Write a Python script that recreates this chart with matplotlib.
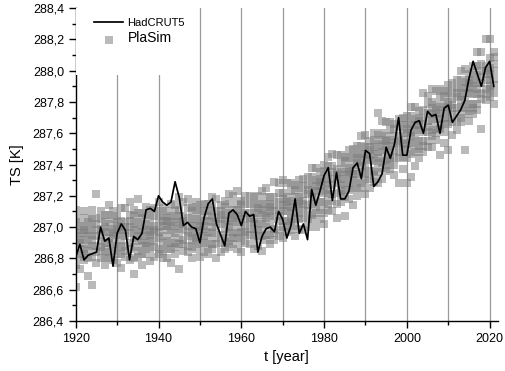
import numpy as np
import matplotlib
matplotlib.use("Agg")
import matplotlib.pyplot as plt
from matplotlib.ticker import MultipleLocator, FuncFormatter
from matplotlib.patches import Rectangle

plt.rcParams['font.family'] = ['Liberation Sans', 'DejaVu Sans']

# -------------------------------------------------------
# Global mean surface temperature: HadCRUT5 vs PlaSim ensemble
# -------------------------------------------------------

years = np.arange(1920, 2022)

# HadCRUT5 annual mean (K)
hadcrut5 = [
    286.81, 286.89, 286.79, 286.82, 286.83, 286.84, 287.00, 286.91, 286.93, 286.75,
    286.96, 287.02, 286.98, 286.79, 286.94, 286.92, 286.96, 287.11, 287.12, 287.10,
    287.20, 287.16, 287.14, 287.16, 287.29, 287.19, 287.01, 287.03, 287.00, 286.99,
    286.90, 287.06, 287.15, 287.18, 287.02, 286.95, 286.88, 287.09, 287.11, 287.08,
    287.01, 287.10, 287.07, 287.08, 286.84, 286.94, 286.99, 287.00, 286.97, 287.10,
    287.05, 286.93, 287.01, 287.18, 286.96, 287.02, 286.92, 287.24, 287.14, 287.23,
    287.33, 287.38, 287.17, 287.35, 287.18, 287.18, 287.23, 287.38, 287.41, 287.31,
    287.49, 287.47, 287.26, 287.29, 287.34, 287.51, 287.44, 287.53, 287.70, 287.46,
    287.46, 287.62, 287.67, 287.68, 287.60, 287.74, 287.71, 287.72, 287.60, 287.76,
    287.78, 287.67, 287.71, 287.75, 287.81, 287.95, 288.06, 287.98, 287.90, 288.02,
    288.06, 287.90,
]

# PlaSim ensemble members per year (K), one row per year, 1920..2021
plasim = [
    [286.76, 286.83, 286.89, 286.94, 286.98, 287.03, 286.62, 287.11],
    [286.81, 286.86, 286.92, 286.96, 287.01, 287.06, 286.73, 286.90],
    [286.79, 286.86, 286.92, 286.96, 287.01, 287.10, 286.83, 286.98],
    [286.69, 286.85, 286.89, 286.94, 286.98, 287.03, 287.06, 286.80],
    [286.81, 286.88, 286.95, 287.00, 287.05, 286.63, 286.92, 287.11],
    [286.77, 286.84, 286.88, 286.94, 286.98, 287.02, 287.06, 287.21],
    [286.85, 286.91, 286.95, 286.99, 287.05, 287.10, 286.80, 286.87],
    [286.81, 286.90, 286.97, 287.00, 287.03, 286.76, 286.86, 287.08],
    [286.80, 286.84, 286.93, 286.97, 287.02, 287.08, 287.14, 286.90],
    [286.85, 286.89, 286.94, 286.99, 287.05, 287.10, 286.79, 286.96],
    [286.77, 286.88, 286.95, 286.98, 287.03, 287.07, 286.83, 287.01],
    [286.83, 286.87, 286.92, 287.00, 287.04, 287.12, 286.74, 286.97],
    [286.81, 286.88, 286.94, 286.98, 287.03, 287.12, 286.85, 287.00],
    [286.79, 286.86, 286.90, 286.96, 287.00, 287.04, 287.08, 287.16],
    [286.80, 286.87, 286.93, 286.98, 287.02, 287.07, 286.70, 287.11],
    [286.81, 286.85, 286.94, 286.98, 287.03, 287.09, 287.18, 286.91],
    [286.76, 286.88, 286.92, 286.97, 287.01, 287.06, 287.09, 286.83],
    [286.88, 286.94, 286.98, 287.02, 287.08, 287.13, 286.83, 286.90],
    [286.86, 286.91, 286.97, 287.01, 287.06, 287.11, 286.78, 286.95],
    [286.87, 286.91, 286.96, 287.01, 287.07, 287.12, 286.81, 286.98],
    [286.86, 286.93, 287.00, 287.05, 287.10, 286.83, 286.97, 287.16],
    [286.85, 286.94, 287.01, 287.04, 287.07, 286.80, 286.90, 287.12],
    [286.80, 286.91, 286.98, 287.01, 287.06, 287.10, 286.86, 287.04],
    [286.86, 286.90, 286.95, 287.03, 287.07, 287.15, 286.77, 287.00],
    [286.83, 286.90, 286.96, 287.01, 287.05, 287.10, 286.87, 287.14],
    [286.73, 286.89, 286.93, 286.99, 287.03, 287.07, 287.11, 287.19],
    [286.85, 286.92, 286.98, 287.02, 287.07, 287.16, 286.89, 287.04],
    [286.84, 286.88, 286.97, 287.01, 287.06, 287.12, 287.18, 286.94],
    [286.80, 286.92, 286.96, 287.01, 287.05, 287.10, 287.13, 286.87],
    [286.91, 286.97, 287.01, 287.05, 287.11, 287.16, 286.86, 286.93],
    [286.89, 286.94, 287.00, 287.04, 287.09, 287.14, 286.81, 286.98],
    [286.90, 286.94, 286.99, 287.04, 287.10, 287.15, 286.84, 287.01],
    [286.88, 286.97, 287.04, 287.07, 287.10, 286.83, 286.93, 287.15],
    [286.89, 286.96, 287.03, 287.08, 287.13, 286.86, 287.00, 287.19],
    [286.89, 286.93, 286.98, 287.06, 287.10, 287.18, 286.80, 287.03],
    [286.84, 286.95, 287.02, 287.05, 287.10, 287.14, 286.90, 287.08],
    [286.86, 286.93, 286.99, 287.04, 287.08, 287.13, 286.90, 287.17],
    [286.87, 286.91, 287.00, 287.04, 287.09, 287.15, 287.21, 286.97],
    [286.89, 286.96, 287.02, 287.06, 287.11, 287.20, 286.93, 287.08],
    [286.86, 286.93, 286.97, 287.03, 287.07, 287.11, 287.15, 287.23],
    [286.84, 286.96, 287.00, 287.05, 287.09, 287.14, 287.17, 286.91],
    [286.95, 287.01, 287.05, 287.09, 287.15, 287.20, 286.90, 286.97],
    [286.95, 286.99, 287.04, 287.09, 287.15, 287.20, 286.89, 287.06],
    [286.94, 286.99, 287.05, 287.09, 287.14, 287.19, 286.86, 287.03],
    [286.93, 287.02, 287.09, 287.12, 287.15, 286.88, 286.98, 287.20],
    [286.94, 286.98, 287.03, 287.11, 287.15, 287.23, 286.85, 287.08],
    [286.95, 287.02, 287.09, 287.14, 287.19, 286.92, 287.06, 287.25],
    [286.89, 287.00, 287.07, 287.10, 287.15, 287.19, 286.95, 287.13],
    [286.92, 286.99, 287.05, 287.10, 287.14, 287.19, 286.96, 287.29],
    [286.94, 286.98, 287.07, 287.11, 287.16, 287.22, 287.28, 287.04],
    [286.93, 287.00, 287.04, 287.10, 287.14, 287.18, 287.22, 287.30],
    [286.97, 287.04, 287.10, 287.14, 287.19, 287.28, 287.01, 287.16],
    [287.03, 287.09, 287.13, 287.17, 287.23, 287.28, 286.98, 287.05],
    [286.94, 287.06, 287.10, 287.15, 287.19, 287.24, 287.27, 287.01],
    [287.05, 287.09, 287.14, 287.19, 287.25, 287.30, 286.99, 287.16],
    [287.06, 287.11, 287.17, 287.21, 287.26, 287.31, 286.98, 287.15],
    [287.05, 287.14, 287.21, 287.24, 287.27, 287.00, 287.10, 287.32],
    [287.08, 287.15, 287.22, 287.27, 287.32, 287.05, 287.19, 287.38],
    [287.09, 287.13, 287.18, 287.26, 287.30, 287.38, 287.00, 287.23],
    [287.05, 287.16, 287.23, 287.26, 287.31, 287.35, 287.11, 287.29],
    [287.09, 287.16, 287.22, 287.27, 287.31, 287.36, 287.02, 287.40],
    [287.11, 287.15, 287.24, 287.28, 287.33, 287.39, 287.45, 287.21],
    [287.10, 287.17, 287.21, 287.27, 287.31, 287.35, 287.39, 287.47],
    [287.15, 287.22, 287.28, 287.32, 287.37, 287.46, 287.06, 287.34],
    [287.21, 287.27, 287.31, 287.35, 287.41, 287.46, 287.16, 287.23],
    [287.07, 287.24, 287.28, 287.33, 287.37, 287.42, 287.45, 287.19],
    [287.24, 287.28, 287.33, 287.38, 287.44, 287.49, 287.18, 287.35],
    [287.25, 287.30, 287.36, 287.40, 287.45, 287.50, 287.14, 287.34],
    [287.25, 287.34, 287.41, 287.44, 287.47, 287.20, 287.30, 287.52],
    [287.28, 287.35, 287.42, 287.47, 287.52, 287.25, 287.39, 287.58],
    [287.30, 287.34, 287.39, 287.47, 287.51, 287.59, 287.21, 287.44],
    [287.25, 287.36, 287.43, 287.46, 287.51, 287.55, 287.31, 287.49],
    [287.29, 287.36, 287.42, 287.47, 287.51, 287.56, 287.33, 287.60],
    [287.28, 287.35, 287.44, 287.48, 287.53, 287.59, 287.73, 287.41],
    [287.31, 287.38, 287.42, 287.48, 287.52, 287.56, 287.60, 287.68],
    [287.36, 287.43, 287.49, 287.53, 287.58, 287.67, 287.40, 287.55],
    [287.42, 287.48, 287.52, 287.56, 287.62, 287.67, 287.37, 287.44],
    [287.33, 287.45, 287.49, 287.54, 287.58, 287.63, 287.66, 287.40],
    [287.44, 287.48, 287.53, 287.58, 287.64, 287.69, 287.28, 287.55],
    [287.45, 287.50, 287.56, 287.60, 287.65, 287.70, 287.37, 287.54],
    [287.44, 287.53, 287.60, 287.63, 287.66, 287.28, 287.49, 287.71],
    [287.47, 287.54, 287.61, 287.66, 287.71, 287.32, 287.58, 287.77],
    [287.48, 287.52, 287.57, 287.65, 287.69, 287.77, 287.39, 287.62],
    [287.44, 287.55, 287.62, 287.65, 287.70, 287.74, 287.50, 287.68],
    [287.48, 287.55, 287.61, 287.66, 287.70, 287.75, 287.52, 287.86],
    [287.51, 287.55, 287.64, 287.68, 287.73, 287.79, 287.84, 287.61],
    [287.51, 287.58, 287.62, 287.68, 287.72, 287.76, 287.80, 287.88],
    [287.56, 287.63, 287.69, 287.73, 287.78, 287.87, 287.60, 287.75],
    [287.63, 287.69, 287.73, 287.77, 287.83, 287.88, 287.46, 287.65],
    [287.54, 287.66, 287.70, 287.75, 287.79, 287.84, 287.87, 287.61],
    [287.66, 287.70, 287.75, 287.80, 287.86, 287.91, 287.49, 287.77],
    [287.67, 287.72, 287.78, 287.82, 287.87, 287.92, 287.59, 287.76],
    [287.67, 287.76, 287.83, 287.86, 287.89, 287.62, 287.72, 287.94],
    [287.70, 287.77, 287.84, 287.89, 287.94, 287.67, 287.81, 288.00],
    [287.72, 287.76, 287.81, 287.89, 287.93, 288.01, 287.49, 287.86],
    [287.68, 287.79, 287.86, 287.89, 287.94, 287.98, 287.74, 287.92],
    [287.72, 287.79, 287.85, 287.90, 287.94, 287.99, 287.76, 288.03],
    [287.75, 287.79, 287.88, 287.92, 287.97, 288.03, 288.12, 287.85],
    [287.63, 287.82, 287.86, 287.92, 287.96, 288.00, 288.04, 288.12],
    [287.81, 287.88, 287.94, 287.98, 288.03, 288.20, 287.85, 288.00],
    [287.88, 287.94, 287.98, 288.02, 288.08, 288.20, 287.83, 287.90],
    [287.79, 287.91, 287.95, 288.00, 288.04, 288.09, 288.12, 287.86],
]

grid_years = np.arange(1930, 2030, 10)

fig = plt.figure(figsize=(5.05, 3.71), dpi=100)
ax = fig.add_axes([0.150, 0.135, 0.836, 0.843])

# vertical grid lines
for gy in grid_years:
    ax.axvline(gy, color='#9a9a9a', lw=0.9, zorder=0)

# PlaSim ensemble scatter
px = np.repeat(years, len(plasim[0]))
py = np.array(plasim).ravel()
ax.scatter(px, py, marker='s', s=26, color='#7c7c7c', alpha=0.52,
           linewidths=0, zorder=2, label='PlaSim')

# HadCRUT5 line
ax.plot(years, hadcrut5, color='black', lw=1.25, zorder=3, label='HadCRUT5')

# white box behind the legend
ax.add_patch(Rectangle((0, 0.786), 0.27, 0.214, transform=ax.transAxes,
                       facecolor='white', edgecolor='none', zorder=4))

ax.set_xlim(1920, 2022)
ax.set_ylim(286.4, 288.4)
ax.xaxis.set_major_locator(MultipleLocator(20))
ax.xaxis.set_minor_locator(MultipleLocator(10))
ax.yaxis.set_major_locator(MultipleLocator(0.2))
ax.yaxis.set_minor_locator(MultipleLocator(0.1))
ax.yaxis.set_major_formatter(FuncFormatter(lambda v, p: f"{v:.1f}".replace('.', ',')))

for side in ['top', 'right']:
    ax.spines[side].set_visible(False)
for side in ['left', 'bottom']:
    ax.spines[side].set_linewidth(1.0)
ax.tick_params(which='major', direction='out', length=5, width=1.0, labelsize=9)
ax.tick_params(which='minor', direction='out', length=3, width=1.0)

ax.set_xlabel('t [year]', fontsize=10.5, labelpad=4)
ax.set_ylabel('TS [K]', fontsize=10.5, labelpad=6)

h, l = ax.get_legend_handles_labels()
leg = ax.legend(h[::-1], l[::-1], loc='upper left', bbox_to_anchor=(0.02, 1.0),
                frameon=False, handlelength=2.6, handletextpad=0.4,
                labelspacing=0.3, fontsize=8)
leg.set_zorder(5)
leg.get_texts()[1].set_fontsize(10)

fig.savefig('out.png', dpi=100)
